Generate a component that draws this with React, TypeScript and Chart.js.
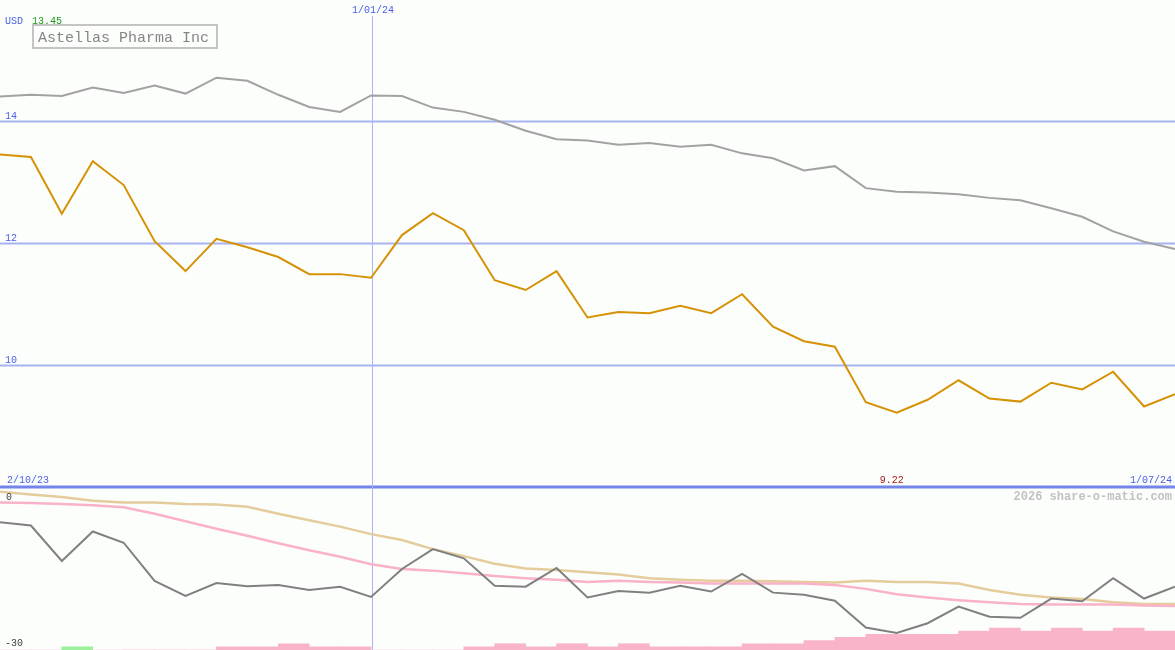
import React, { useEffect, useRef } from "react";
import { Chart, registerables } from "chart.js";

Chart.register(...registerables);

// weekly closes, Astellas Pharma Inc (USD)
const priceValues = [
  13.45, 13.41, 12.48, 13.34, 12.95, 12.03, 11.54, 12.07, 11.93, 11.77,
  11.49, 11.49, 11.43, 12.13, 12.49, 12.21, 11.39, 11.23, 11.54, 10.78,
  10.87, 10.85, 10.97, 10.85, 11.16, 10.63, 10.39, 10.3, 9.39, 9.22,
  9.43, 9.75, 9.45, 9.4, 9.71, 9.6, 9.89, 9.32, 9.52,
];
// comparison index, rebased
const indexValues = [
  14.4, 14.43, 14.41, 14.55, 14.46, 14.58, 14.45, 14.71, 14.66, 14.43,
  14.23, 14.15, 14.42, 14.41, 14.22, 14.15, 14.02, 13.84, 13.7, 13.68,
  13.61, 13.64, 13.58, 13.61, 13.47, 13.39, 13.19, 13.26, 12.9, 12.84,
  12.83, 12.8, 12.74, 12.7, 12.57, 12.43, 12.19, 12.02, 11.9,
];
// lower panel: relative performance and its two averages
const relativeValues = [
  -6.4, -7.0, -13.6, -8.1, -10.2, -17.3, -20.1, -17.7, -18.3, -18.1,
  -19.0, -18.4, -20.3, -15.1, -11.4, -13.1, -18.2, -18.4, -14.9, -20.4,
  -19.2, -19.5, -18.2, -19.3, -16.0, -19.5, -19.9, -21.0, -26.0, -27.0,
  -25.2, -22.1, -24.0, -24.2, -20.6, -21.1, -16.8, -20.6, -18.4,
];
const fastAverage = [
  -2.7, -2.8, -3.0, -3.2, -3.6, -4.8, -6.2, -7.6, -8.9, -10.3,
  -11.6, -12.8, -14.2, -15.1, -15.4, -15.9, -16.4, -16.8, -17.1, -17.5,
  -17.3, -17.5, -17.6, -17.8, -17.8, -17.8, -17.8, -18.1, -18.8, -19.8,
  -20.4, -20.9, -21.3, -21.6, -21.7, -21.7, -21.7, -21.9, -22.0,
];
const slowAverage = [
  -0.7, -1.2, -1.7, -2.4, -2.7, -2.7, -3.0, -3.1, -3.5, -4.8,
  -6.0, -7.2, -8.6, -9.7, -11.4, -12.7, -14.1, -15.0, -15.3, -15.7,
  -16.1, -16.8, -17.1, -17.3, -17.3, -17.4, -17.5, -17.6, -17.3, -17.5,
  -17.5, -17.8, -19.0, -19.9, -20.4, -20.7, -21.3, -21.6, -21.6,
];
// histogram between consecutive weeks
const histogramLevels = [
  0, 0, 1, 0, 0, 0, 0, 1, 1, 2,
  1, 1, 0, 0, 0, 1, 2, 1, 2, 1,
  2, 1, 1, 1, 2, 2, 3, 4, 5, 5,
  5, 6, 7, 6, 7, 6, 7, 6,
];
const greenBars = [2];

const priceTicks = [14, 12, 10];
const priceFloor = 8;
const lowerTicks = [0, -30];
const dateLabels = ["2/10/23", "1/01/24", "1/07/24"];
const dividerIndex = 12;

const MONO = "'Liberation Mono', 'DejaVu Sans Mono', monospace";

const overlayPlugin = {
  id: "overlay",
  beforeDatasetsDraw(chart: any) {
    const { ctx, chartArea } = chart;
    const x = chart.scales.x;
    const yP = chart.scales.yPrice;
    ctx.save();
    // price grid
    ctx.strokeStyle = "#a6b4f2";
    ctx.lineWidth = 2;
    priceTicks.forEach((v) => {
      const py = Math.round(yP.getPixelForValue(v)) + 0.5;
      ctx.beginPath();
      ctx.moveTo(chartArea.left, py);
      ctx.lineTo(chartArea.right, py);
      ctx.stroke();
    });
    // divider between panels
    ctx.strokeStyle = "#7484ea";
    ctx.lineWidth = 3;
    const fy = Math.round(yP.getPixelForValue(priceFloor));
    ctx.beginPath();
    ctx.moveTo(chartArea.left, fy);
    ctx.lineTo(chartArea.right, fy);
    ctx.stroke();
    // year marker
    const vx = Math.round(x.getPixelForValue(dividerIndex)) + 1.5;
    ctx.strokeStyle = "#a8b6f6";
    ctx.lineWidth = 1;
    ctx.beginPath();
    ctx.moveTo(vx, 16);
    ctx.lineTo(vx, chartArea.bottom);
    ctx.stroke();
    ctx.restore();
  },
  afterDatasetsDraw(chart: any) {
    const { ctx, chartArea } = chart;
    const x = chart.scales.x;
    const yP = chart.scales.yPrice;
    const yL = chart.scales.yLow;
    ctx.save();
    ctx.font = `10px ${MONO}`;
    ctx.textBaseline = "alphabetic";

    // price tick labels
    ctx.fillStyle = "#4a5ee6";
    ctx.textAlign = "left";
    priceTicks.forEach((v) => {
      ctx.fillText(String(v), 5, yP.getPixelForValue(v) - 2);
    });

    // currency + high
    const hi = Math.max(...priceValues);
    const lo = Math.min(...priceValues);
    ctx.fillText("USD", 5, 24);
    ctx.fillStyle = "#1e9a1e";
    ctx.fillText(hi.toFixed(2), 32, 24);

    // name box
    ctx.strokeStyle = "#c4c4c4";
    ctx.lineWidth = 2;
    ctx.strokeRect(33, 25, 184, 23);
    ctx.font = `15px ${MONO}`;
    ctx.fillStyle = "#858585";
    ctx.fillText("Astellas Pharma Inc", 38, 42);

    // dates
    ctx.font = `10px ${MONO}`;
    ctx.fillStyle = "#4a5ee6";
    const floorY = yP.getPixelForValue(priceFloor);
    ctx.textAlign = "left";
    ctx.fillText(dateLabels[0], 7, floorY - 4);
    ctx.textAlign = "right";
    ctx.fillText(dateLabels[2], chartArea.right - 3, floorY - 4);
    ctx.textAlign = "center";
    ctx.fillText(dateLabels[1], x.getPixelForValue(dividerIndex) + 2, 13);

    // low marker
    ctx.fillStyle = "#a01c1c";
    ctx.fillText(lo.toFixed(2), x.getPixelForValue(priceValues.indexOf(lo)) - 5, floorY - 4);

    // lower panel labels
    ctx.fillStyle = "#404040";
    ctx.textAlign = "left";
    ctx.textBaseline = "top";
    ctx.fillText(String(lowerTicks[0]), 6, yL.getPixelForValue(lowerTicks[0]) + 4);
    ctx.textBaseline = "alphabetic";
    ctx.fillText(String(lowerTicks[1]), 5, yL.getPixelForValue(lowerTicks[1]) - 3);

    // watermark
    ctx.font = `bold 12px ${MONO}`;
    ctx.fillStyle = "#c2c2c2";
    ctx.textAlign = "right";
    ctx.fillText("2026 share-o-matic.com", chartArea.right - 3, 500);
    ctx.restore();
  },
};

const toPoints = (arr: number[]) => arr.map((v, i) => ({ x: i, y: v }));

export default function App() {
  const canvasRef = useRef<HTMLCanvasElement>(null);
  const chartRef = useRef<Chart | null>(null);

  useEffect(() => {
    document.body.style.margin = "0";
    if (!canvasRef.current) return;
    if (chartRef.current) chartRef.current.destroy();

    chartRef.current = new Chart(canvasRef.current, {
      type: "line",
      data: {
        datasets: [
          {
            type: "bar",
            data: histogramLevels.map((v, k) => ({ x: k + 0.5, y: v })),
            backgroundColor: histogramLevels.map((_, k) =>
              greenBars.includes(k) ? "#9cf09c" : "#f9b4c9"
            ),
            borderWidth: 0,
            barPercentage: 1,
            categoryPercentage: 1,
            yAxisID: "yVol",
            order: 10,
          } as any,
          {
            data: toPoints(indexValues),
            borderColor: "#a2a2a2",
            borderWidth: 2,
            pointRadius: 0,
            yAxisID: "yPrice",
            order: 5,
          },
          {
            data: toPoints(priceValues),
            borderColor: "#d69206",
            borderWidth: 2,
            pointRadius: 0,
            yAxisID: "yPrice",
            order: 1,
          },
          {
            data: toPoints(slowAverage),
            borderColor: "#e4cc9c",
            borderWidth: 2.5,
            pointRadius: 0,
            yAxisID: "yLow",
            order: 4,
          },
          {
            data: toPoints(fastAverage),
            borderColor: "#f9b2c8",
            borderWidth: 2.5,
            pointRadius: 0,
            yAxisID: "yLow",
            order: 3,
          },
          {
            data: toPoints(relativeValues),
            borderColor: "#808080",
            borderWidth: 2,
            pointRadius: 0,
            yAxisID: "yLow",
            order: 2,
          },
        ],
      },
      options: {
        animation: false,
        responsive: true,
        maintainAspectRatio: false,
        events: [],
        layout: { padding: 0 },
        plugins: {
          legend: { display: false },
          tooltip: { enabled: false },
          title: { display: false },
        },
        scales: {
          x: { type: "linear", min: 0, max: 38, offset: false, display: false },
          yPrice: { axis: "y", type: "linear", min: 5.328, max: 15.984, display: false },
          yLow: { axis: "y", type: "linear", min: -30.19, max: 90.93, display: false },
          yVol: { axis: "y", type: "linear", min: 0, max: 207, display: false },
        },
      },
      plugins: [overlayPlugin],
    });

    return () => {
      if (chartRef.current) {
        chartRef.current.destroy();
        chartRef.current = null;
      }
    };
  }, []);

  return (
    <div style={{ width: "1175px", height: "650px", background: "#fcfefc", position: "relative" }}>
      <canvas ref={canvasRef} />
    </div>
  );
}
